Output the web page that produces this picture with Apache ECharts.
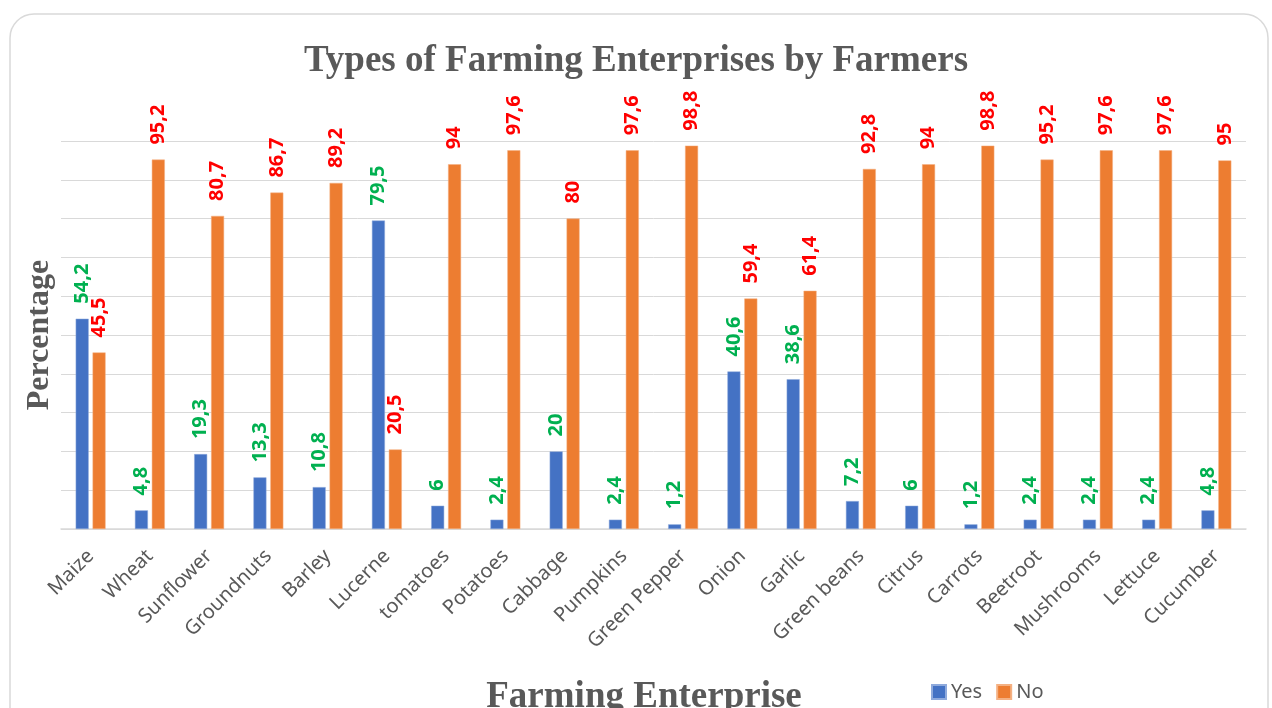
<!DOCTYPE html>
<html>
<head>
<meta charset="utf-8">
<script src="https://cdn.jsdelivr.net/npm/echarts@6/dist/echarts.min.js"></script>
<style>html,body{margin:0;padding:0;background:#fff;}#c{width:1272px;height:708px;}</style>
</head>
<body>
<div id="c"></div>
<script>
const categories = ["Maize","Wheat","Sunflower","Groundnuts","Barley","Lucerne","tomatoes","Potatoes","Cabbage","Pumpkins","Green Pepper","Onion","Garlic","Green beans","Citrus","Carrots","Beetroot","Mushrooms","Lettuce","Cucumber"];
const yesValues = [54.2,4.8,19.3,13.3,10.8,79.5,6,2.4,20,2.4,1.2,40.6,38.6,7.2,6,1.2,2.4,2.4,2.4,4.8];
const noValues = [45.5,95.2,80.7,86.7,89.2,20.5,94,97.6,80,97.6,98.8,59.4,61.4,92.8,94,98.8,95.2,97.6,97.6,95];
const seriesNames = ["Yes","No"];
const titleText = "Types of Farming Enterprises by Farmers";
const xTitle = "Farming Enterprise";
const yTitle = "Percentage";

const chart = echarts.init(document.getElementById('c'));
const fmt = p => String(p.value).replace('.', ',');
const labelStyle = color => ({
  show: true, position: 'top', distance: 15, rotate: 90, align: 'left', verticalAlign: 'middle',
  formatter: fmt, color: color, fontFamily: 'Noto Sans', fontWeight: 'bold', fontSize: 20
});
chart.setOption({
  animation: false,
  backgroundColor: '#fff',
  title: {
    text: titleText, left: 'center', top: 38,
    textStyle: { fontFamily: 'Liberation Serif', fontWeight: 'bold', fontSize: 37, color: '#595959' }
  },
  legend: {
    data: seriesNames, left: 926, top: 677, itemWidth: 14, itemHeight: 14, itemGap: 14, icon: 'rect',
    textStyle: { fontFamily: 'Noto Sans', fontSize: 20, color: '#595959' }
  },
  grid: { left: 61, right: 26, top: 141, bottom: 179, containLabel: false },
  xAxis: {
    type: 'category', data: categories,
    axisLine: { lineStyle: { color: '#d9d9d9', width: 1.5 } },
    axisTick: { show: false },
    axisLabel: { rotate: 45, margin: 24, fontFamily: 'Noto Sans', fontSize: 20, color: '#595959', interval: 0 }
  },
  yAxis: {
    type: 'value', min: 0, max: 100, interval: 10,
    axisLabel: { show: false }, axisLine: { show: false }, axisTick: { show: false },
    splitLine: { lineStyle: { color: '#d9d9d9', width: 1 } }
  },
  series: [
    { name: seriesNames[0], type: 'bar', data: yesValues, barWidth: 13, barGap: '30%',
      itemStyle: { color: '#4472C4', borderColor: '#8faadc', borderWidth: 0.5 }, label: labelStyle('#00B050') },
    { name: seriesNames[1], type: 'bar', data: noValues, barWidth: 13, barGap: '30%',
      itemStyle: { color: '#ED7D31', borderColor: '#f4b183', borderWidth: 0.5 }, label: labelStyle('#FF0000') }
  ],
  graphic: [
    { type: 'rect', shape: { x: 10, y: 14, width: 1258, height: 740, r: 24 },
      style: { fill: 'none', stroke: '#d9d9d9', lineWidth: 1.5 }, silent: true },
    { type: 'text', x: 40, y: 335, rotation: Math.PI / 2,
      style: { text: yTitle, fontFamily: 'Liberation Serif', fontWeight: 'bold', fontSize: 32, fill: '#595959', textAlign: 'center', textVerticalAlign: 'middle', verticalAlign: 'middle' } },
    { type: 'text', x: 644, y: 697,
      style: { text: xTitle, fontFamily: 'Liberation Serif', fontWeight: 'bold', fontSize: 37, fill: '#595959', textAlign: 'center', textVerticalAlign: 'middle', verticalAlign: 'middle' } }
  ]
});
</script>
</body>
</html>
